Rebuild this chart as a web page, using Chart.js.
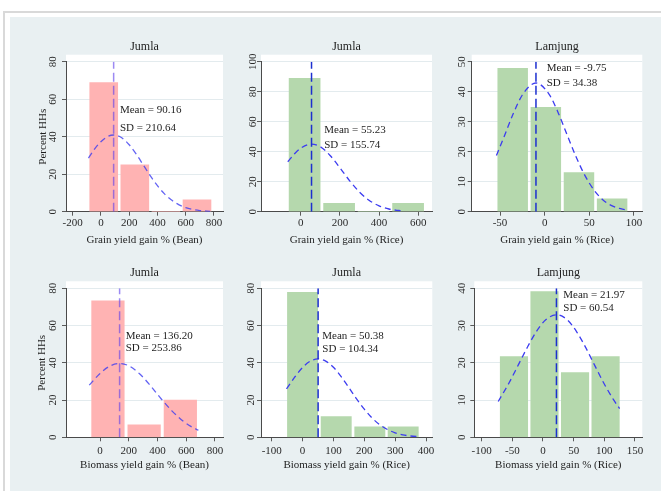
<!DOCTYPE html>
<html><head><meta charset="utf-8">
<script src="https://cdn.jsdelivr.net/npm/chart.js@4/dist/chart.umd.min.js"></script>
<style>
html,body{margin:0;padding:0;background:#fff;width:661px;height:491px;overflow:hidden;position:relative}
#frame{position:absolute;left:3px;top:11px;width:720px;height:540px;border:2px solid #d9d9d9;background:#fff;box-sizing:border-box}
#bg{position:absolute;left:10px;top:17px;width:720px;height:540px;background:#e9f0f2}
canvas{position:absolute}
</style></head><body>
<div id="frame"></div><div id="bg"></div>
<script>
// ---------- DATA ----------
const panelTitles = ['Jumla', 'Jumla', 'Lamjung', 'Jumla', 'Jumla', 'Lamjung'];
const xTitles = ['Grain yield gain % (Bean)', 'Grain yield gain % (Rice)', 'Grain yield gain % (Rice)',
                 'Biomass yield gain % (Bean)', 'Biomass yield gain % (Rice)', 'Biomass yield gain % (Rice)'];
const yTitle = 'Percent HHs';
const crops = ['bean', 'rice', 'rice', 'bean', 'rice', 'rice'];
const means = [90.16, 55.23, -9.75, 136.20, 50.38, 21.97];
const sds = [210.64, 155.74, 34.38, 253.86, 104.34, 60.54];
const binWidths = [220, 176, 37.1, 252, 109, 49.8];

const binCenters1 = [20, 240, 460, 680];          const percent1 = [68.8, 25.0, 0, 6.3];
const binCenters2 = [20, 196, 372, 548];          const percent2 = [88.9, 5.6, 0, 5.6];
const binCenters3 = [-35.8, 1.3, 38.4, 75.5];     const percent3 = [47.8, 34.8, 13.0, 4.3];
const binCenters4 = [55, 307, 559];               const percent4 = [73.3, 6.7, 20.0];
const binCenters5 = [0, 109, 218, 326];           const percent5 = [77.8, 11.1, 5.6, 5.6];
const binCenters6 = [-47.3, 2.5, 52.3, 102.1];    const percent6 = [21.7, 39.1, 17.4, 21.7];

// normal-density overlay, values
const curveX1 = [-88, -40, 0, 50, 90, 150, 200, 250, 300, 350, 400, 450, 500, 550, 600, 650, 700, 773];
const curveY1 = [28.6, 33.9, 37.3, 40.2, 40.9, 39.3, 35.7, 30.7, 24.9, 19.1, 13.9, 9.5, 6.2, 3.8, 2.2, 1.2, 0.6, 0.2];
const curveX2 = [-66, -30, 0, 55, 100, 150, 200, 250, 300, 350, 400, 450, 500, 530];
const curveY2 = [33.3, 38.8, 42.3, 45.1, 43.3, 37.5, 29.3, 20.6, 13.1, 7.5, 3.9, 1.8, 0.8, 0.4];
const curveX3 = [-54, -45, -35, -25, -9.75, 5, 15, 25, 35, 45, 55, 65, 75, 85, 93];
const curveY3 = [18.7, 25.3, 32.8, 38.9, 42.9, 39.1, 33.1, 25.7, 18.4, 12.1, 7.3, 4.0, 2.0, 1.0, 0.5];
const curveX4 = [-75, 0, 70, 136, 200, 275, 350, 425, 500, 575, 635, 685];
const curveY4 = [28.0, 34.3, 38.3, 39.6, 38.4, 34.1, 27.8, 20.7, 14.2, 8.9, 5.7, 3.8];
const curveX5 = [-52, -25, 0, 25, 50, 75, 100, 125, 150, 175, 200, 225, 250, 275, 300, 325, 350, 378];
const curveY5 = [26.0, 32.4, 37.5, 40.9, 42.1, 40.9, 37.6, 32.6, 26.7, 20.6, 15.1, 10.4, 6.8, 4.2, 2.4, 1.3, 0.7, 0.3];
const curveX6 = [-73, -55, -40, -25, -10, 5, 22, 40, 55, 70, 85, 100, 115, 125];
const curveY6 = [9.6, 14.7, 19.5, 24.3, 28.6, 31.6, 32.9, 31.5, 28.3, 24.0, 19.1, 14.3, 10.1, 7.7];

const xTicks1 = [-200, 0, 200, 400, 600, 800];
const xTicks2 = [0, 200, 400, 600];
const xTicks3 = [-50, 0, 50, 100];
const xTicks4 = [0, 200, 400, 600, 800];
const xTicks5 = [-100, 0, 100, 200, 300, 400];
const xTicks6 = [-100, -50, 0, 50, 100, 150];
const yTicks1 = [0, 20, 40, 60, 80];
const yTicks2 = [0, 20, 40, 60, 80, 100];
const yTicks3 = [0, 10, 20, 30, 40, 50];
const yTicks4 = [0, 20, 40, 60, 80];
const yTicks5 = [0, 20, 40, 60, 80];
const yTicks6 = [0, 10, 20, 30, 40];

// ---------- LAYOUT (positions / styles) ----------
const geom = [
  {x0:28,  y0:30,  cw:201, ch:217, W:38,   R:6,   T:31.7, H:35.3, xmin:-247,  xmax:864,   xPad:1,   yPad:3.2,  yTitlePad:8.4, labX:134.7, labY:[54.2,44.5]},
  {x0:233, y0:30,  cw:205, ch:217, W:28,   R:6,   T:31.7, H:35.3, xmin:-202.6,xmax:670,   xPad:1,   yPad:-3.9, yTitlePad:0,   labX:120,   labY:[54.5,44.5]},
  {x0:443, y0:30,  cw:205, ch:217, W:28.7, R:5.7, T:31.7, H:35.3, xmin:-81.7, xmax:109.3, xPad:1,   yPad:-0.2, yTitlePad:0,   labX:2.3,   labY:[47.8,42.8]},
  {x0:28,  y0:256, cw:201, ch:216, W:38,   R:6,   T:32.3, H:34.7, xmin:-237,  xmax:856,   xPad:2.8, yPad:3.2,  yTitlePad:7.7, labX:179,   labY:[54.4,47.8]},
  {x0:233, y0:256, cw:205, ch:216, W:28,   R:5.7, T:32.3, H:34.7, xmin:-134.7,xmax:420.4, xPad:2.8, yPad:0.8,  yTitlePad:0,   labX:64,    labY:[54.4,47.2]},
  {x0:443, y0:256, cw:205, ch:216, W:31.3, R:5.7, T:32.3, H:34.7, xmin:-112,  xmax:162,   xPad:2.8, yPad:2.5,  yTitlePad:0,   labX:33.1,  labY:[38.2,34.8]}
];
const colors = {
  bean: {bar:'#ffb3b3', curve:'rgba(60,60,240,0.8)', mean:'rgba(90,60,235,0.6)'},
  rice: {bar:'#b5d8ad', curve:'#3c3cf0', mean:'#1c2fd0'}
};

const binCenters = [binCenters1, binCenters2, binCenters3, binCenters4, binCenters5, binCenters6];
const percents = [percent1, percent2, percent3, percent4, percent5, percent6];
const curveXs = [curveX1, curveX2, curveX3, curveX4, curveX5, curveX6];
const curveYs = [curveY1, curveY2, curveY3, curveY4, curveY5, curveY6];
const xTicksAll = [xTicks1, xTicks2, xTicks3, xTicks4, xTicks5, xTicks6];
const yTicksAll = [yTicks1, yTicks2, yTicks3, yTicks4, yTicks5, yTicks6];

Chart.defaults.font.family = "'Liberation Serif','Times New Roman',serif";
const FONT = "'Liberation Serif','Times New Roman',serif";

for (let i = 0; i < 6; i++) {
  const g = geom[i];
  const col = colors[crops[i]];
  const yT = yTicksAll[i];
  const ymax = yT[yT.length - 1];
  const cv = document.createElement('canvas');
  cv.width = g.cw; cv.height = g.ch;
  cv.style.left = g.x0 + 'px'; cv.style.top = g.y0 + 'px';
  cv.style.width = g.cw + 'px'; cv.style.height = g.ch + 'px';
  document.body.appendChild(cv);
  const pxPerUnit = (g.cw - g.R - g.W) / (g.xmax - g.xmin);
  const thick = binWidths[i] * pxPerUnit * 0.9;
  const showYTitle = (i % 3 === 0);

  const plotBg = {
    id: 'plotBg' + i,
    beforeDraw(chart) {
      const a = chart.chartArea, ctx = chart.ctx;
      ctx.save(); ctx.fillStyle = '#ffffff';
      ctx.fillRect(a.left, a.top - 7, a.right - a.left, a.bottom - a.top + 7);
      ctx.restore();
    }
  };
  const annot = {
    id: 'annot' + i,
    afterDatasetsDraw(chart) {
      const a = chart.chartArea, ctx = chart.ctx, xs = chart.scales.x, ys = chart.scales.y;
      ctx.save();
      ctx.fillStyle = '#1e1e1e';
      ctx.font = '12px ' + FONT;
      ctx.textAlign = 'center'; ctx.textBaseline = 'middle';
      ctx.fillText(panelTitles[i], (a.left + a.right) / 2, a.top - 15);
      ctx.font = '11px ' + FONT;
      ctx.textAlign = 'left';
      const tx = xs.getPixelForValue(g.labX);
      ctx.fillText('Mean = ' + means[i].toFixed(2), tx, ys.getPixelForValue(g.labY[0]));
      ctx.fillText('SD = ' + sds[i].toFixed(2), tx, ys.getPixelForValue(g.labY[1]));
      ctx.restore();
    }
  };

  new Chart(cv, {
    type: 'bar',
    data: {
      datasets: [
        {type:'bar', data: binCenters[i].map((c,k)=>({x:c, y:percents[i][k]})),
         backgroundColor: col.bar, borderWidth: 0, barThickness: thick, order: 3},
        {type:'line', data: curveXs[i].map((c,k)=>({x:c, y:curveYs[i][k]})),
         borderColor: col.curve, borderWidth: 1.3, borderDash: [6,4], pointRadius: 0, fill: false,
         cubicInterpolationMode: 'monotone', order: 2},
        {type:'line', data: [{x:means[i], y:0}, {x:means[i], y:ymax}],
         borderColor: col.mean, borderWidth: 1.5, borderDash: [9,4], pointRadius: 0, fill: false, order: 1}
      ]
    },
    options: {
      responsive: false, animation: false, devicePixelRatio: 1, events: [],
      layout: {padding: {left: 0, right: g.R, top: g.T, bottom: 0}},
      plugins: {legend: {display: false}, tooltip: {enabled: false}, title: {display: false}},
      scales: {
        x: {
          type: 'linear', position: 'bottom', min: g.xmin, max: g.xmax, offset: false,
          afterBuildTicks: s => { s.ticks = xTicksAll[i].map(v => ({value: v})); },
          afterFit: s => { s.height = g.H; },
          ticks: {autoSkip: false, maxRotation: 0, minRotation: 0, padding: g.xPad, color: '#2a2a2a',
                  font: {size: 11, lineHeight: 1.2}, callback: v => String(v)},
          grid: {display: true, offset: false, drawOnChartArea: false, drawTicks: true, tickLength: 4, tickColor: '#5a5a5a', tickWidth: 1},
          border: {display: true, color: '#4a4a4a', width: 1},
          title: {display: true, text: xTitles[i], color: '#1e1e1e', font: {size: 11, lineHeight: 1.2}, padding: {top: 0, bottom: 0}}
        },
        y: {
          type: 'linear', position: 'left', min: 0, max: ymax,
          afterBuildTicks: s => { s.ticks = yT.map(v => ({value: v})); },
          afterFit: s => { s.width = g.W; },
          ticks: {minRotation: 90, maxRotation: 90, crossAlign: 'center', padding: g.yPad, color: '#2a2a2a',
                  font: {size: 11, lineHeight: 1.2}},
          grid: {display: true, drawOnChartArea: true, color: '#e3ebee', lineWidth: 1, drawTicks: true, tickLength: 4, tickColor: '#5a5a5a'},
          border: {display: true, color: '#4a4a4a', width: 1},
          title: {display: showYTitle, text: yTitle, color: '#1e1e1e', font: {size: 11, lineHeight: 1.2}, padding: {top: g.yTitlePad, bottom: 0}}
        }
      }
    },
    plugins: [plotBg, annot]
  });
}
</script>
</body></html>
